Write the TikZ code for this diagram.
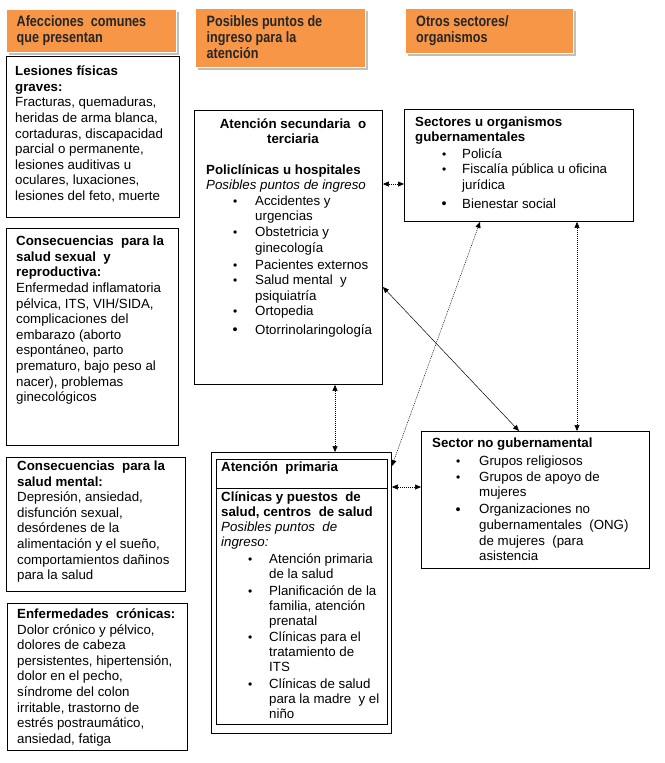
\documentclass[tikz,border=0pt]{standalone}
\usepackage{fontspec}
\setmainfont{Liberation Sans}
\newfontfamily\hdrfont[FakeStretch=0.84]{Liberation Sans}
\usetikzlibrary{shadows,arrows.meta,calc}
\definecolor{hdrorange}{HTML}{F79646}
\newcommand{\blt}[2]{\makebox[#2][l]{\hspace*{#1}{\large\textbullet}}}
\newcommand{\bigblt}[2]{\makebox[#2][l]{\hspace*{#1}\raisebox{-0.4pt}{\Large\textbullet}}}
\newcommand{\cnt}[1]{\hspace*{#1}}
\tikzset{
  hdr/.style={fill=hdrorange, draw=white, line width=0.8pt,
    drop shadow={shadow xshift=2.5pt, shadow yshift=-2.5pt, fill=black, opacity=0.25},
    anchor=north west, inner sep=0pt},
  box/.style={draw=black, line width=0.9pt, anchor=north west, inner sep=0pt},
  txt/.style={anchor=base west, inner sep=0pt, font=\fontsize{13.3}{15.6}\selectfont},
  ptxt/.style={anchor=base west, inner sep=0pt, font=\fontsize{13.3}{15}\selectfont},
  ctxt/.style={anchor=base, inner sep=0pt, font=\fontsize{13.3}{15.6}\selectfont},
  htxt/.style={anchor=base west, inner sep=0pt, font=\hdrfont\bfseries\fontsize{15}{16}\selectfont, text=black!85},
  conn/.style={line width=0.5pt, dash pattern=on 1pt off 1pt, {Triangle[length=6pt,width=5pt]}-{Triangle[length=6pt,width=5pt]}},
  sconn/.style={line width=0.5pt, {Triangle[length=6pt,width=5pt]}-{Triangle[length=6pt,width=5pt]}},
}
\begin{document}
\begin{tikzpicture}[x=1pt,y=-1pt]
\useasboundingbox (0,0) rectangle (664,763);
% headers
\node[hdr, minimum width=170pt, minimum height=43pt] (hA) at (6,9) {};
\node[hdr, minimum width=170pt, minimum height=59pt] (hB) at (195,8) {};
\node[hdr, minimum width=168pt, minimum height=45pt] (hC) at (405,8) {};
\node[htxt] (hAt) at (16.5,26.5) {\begin{tabular}[t]{@{}l@{}}Afecciones\ \ comunes\\que presentan\end{tabular}};
\node[htxt] (hBt) at (206.5,26.5) {\begin{tabular}[t]{@{}l@{}}Posibles puntos de\\ingreso para la\\atención\end{tabular}};
\node[htxt] (hCt) at (416,26.5) {\begin{tabular}[t]{@{}l@{}}Otros sectores/\\organismos\end{tabular}};
% left boxes
\node[box, minimum width=173pt, minimum height=161pt] (b1) at (6,56) {};
\node[box, minimum width=172pt, minimum height=217pt] (b2) at (6,228) {};
\node[box, minimum width=179pt, minimum height=134pt] (b3) at (6,457) {};
\node[box, minimum width=180pt, minimum height=147pt] (b4) at (7,603) {};
\node[txt] (b1t) at (15,75.7) {\begin{tabular}[t]{@{}l@{}}
\textbf{Lesiones físicas}\\
\textbf{graves:}\\
Fracturas, quemaduras,\\
heridas de arma blanca,\\
cortaduras, discapacidad\\
parcial o permanente,\\
lesiones auditivas u\\
oculares, luxaciones,\\
lesiones del feto, muerte\end{tabular}};
\node[txt] (b2t) at (16,245.7) {\begin{tabular}[t]{@{}l@{}}
\textbf{Consecuencias\ \ para la}\\
\textbf{salud sexual\ \ y}\\
\textbf{reproductiva:}\\
Enfermedad inflamatoria\\
pélvica, ITS, VIH/SIDA,\\
complicaciones del\\
embarazo (aborto\\
espontáneo, parto\\
prematuro, bajo peso al\\
nacer), problemas\\
ginecológicos\end{tabular}};
\node[txt] (b3t) at (17,470.5) {\begin{tabular}[t]{@{}l@{}}
\textbf{Consecuencias\ \ para la}\\
\textbf{salud mental:}\\
Depresión, ansiedad,\\
disfunción sexual,\\
desórdenes de la\\
alimentación y el sueño,\\
comportamientos dañinos\\
para la salud\end{tabular}};
\node[txt] (b4t) at (17,618.5) {\begin{tabular}[t]{@{}l@{}}
\textbf{Enfermedades\ \ crónicas:}\\
Dolor crónico y pélvico,\\
dolores de cabeza\\
persistentes, hipertensión,\\
dolor en el pecho,\\
síndrome del colon\\
irritable, trastorno de\\
estrés postraumático,\\
ansiedad, fatiga\end{tabular}};
% secondary care
\node[box, minimum width=188pt, minimum height=274pt] (sec) at (194,110) {};
\node[ctxt] (sech) at (293,128) {\begin{tabular}[t]{@{}c@{}}
\textbf{Atención secundaria\ \ o}\\
\textbf{terciaria}\end{tabular}};
\node[txt] (secb) at (206,174) {\begin{tabular}[t]{@{}l@{}}
\textbf{Policlínicas u hospitales}\\
\textit{Posibles puntos de ingreso}\\
\blt{27pt}{49pt}Accidentes y\\
\cnt{49pt}urgencias\\
\blt{27pt}{49pt}Obstetricia y\\
\cnt{49pt}ginecología\\[1.5pt]
\blt{27pt}{49pt}Pacientes externos\\
\blt{27pt}{49pt}Salud mental\ \ y\\
\cnt{49pt}psiquiatría\\
\blt{27pt}{49pt}Ortopedia\\[2.5pt]
\bigblt{26.5pt}{49pt}Otorrinolaringología\end{tabular}};
% government
\node[box, minimum width=229pt, minimum height=112pt] (gov) at (404,109) {};
\node[txt] (govt) at (415,126) {\begin{tabular}[t]{@{}l@{}}
\textbf{Sectores u organismos}\\
\textbf{gubernamentales}\\[1pt]
\blt{27pt}{47pt}Policía\\
\blt{27pt}{47pt}Fiscalía pública u oficina\\
\cnt{47pt}jurídica\\[3pt]
\bigblt{26.5pt}{47pt}Bienestar social\end{tabular}};
% non-government
\node[box, minimum width=228pt, minimum height=137pt] (nogov) at (421,431) {};
\node[txt] (nogovt) at (432,447) {\begin{tabular}[t]{@{}l@{}}
\textbf{Sector no gubernamental}\\[3pt]
\blt{24pt}{47pt}Grupos religiosos\\
\blt{24pt}{47pt}Grupos de apoyo de\\
\cnt{47pt}mujeres\\[1.5pt]
\bigblt{23.5pt}{47pt}Organizaciones no\\
\cnt{47pt}gubernamentales\ \ (ONG)\\
\cnt{47pt}de mujeres\ \ (para\\
\cnt{47pt}asistencia\end{tabular}};
% primary care
\node[box, minimum width=180pt, minimum height=281pt] (prim) at (211,452) {};
\node[box, minimum width=171pt, minimum height=265pt] (primin) at (216,459) {};
\coordinate (sepL) at (216,488);
\coordinate (sepR) at (387,488);
\draw[line width=0.9pt] (sepL) -- (sepR);
\node[txt] (primh) at (221,471) {\textbf{Atención\ \ primaria}};
\node[ptxt] (primt) at (221,501) {\begin{tabular}[t]{@{}l@{}}
\textbf{Clínicas y puestos\ \ de}\\
\textbf{salud, centros\ \ de salud}\\
\textit{Posibles puntos\ \ de}\\
\textit{ingreso:}\\[2.5pt]
\blt{27pt}{48pt}Atención primaria\\
\cnt{48pt}de la salud\\[1.5pt]
\blt{27pt}{48pt}Planificación de la\\
\cnt{48pt}familia, atención\\
\cnt{48pt}prenatal\\[1.5pt]
\blt{27pt}{48pt}Clínicas para el\\
\cnt{48pt}tratamiento de\\
\cnt{48pt}ITS\\[1.5pt]
\blt{27pt}{48pt}Clínicas de salud\\
\cnt{48pt}para la madre\ \ y el\\
\cnt{48pt}niño\end{tabular}};
% connectors
\draw[conn] ([yshift=-74pt]sec.north east) -- ([yshift=-75pt]gov.north west);
\draw[conn] ([xshift=141pt]sec.south west) -- ([xshift=124pt]prim.north west);
\draw[conn] ([yshift=-35pt]prim.north east) -- ([yshift=-56pt]nogov.north west);
\draw[conn] ([yshift=-14pt]prim.north east) -- ([xshift=76pt]gov.south west);
\draw[sconn] ([yshift=-177pt]sec.north east) -- ([xshift=98pt]nogov.north west);
\draw[conn] ([xshift=173pt]gov.south west) -- ([xshift=156pt]nogov.north west);
\end{tikzpicture}
\end{document}
